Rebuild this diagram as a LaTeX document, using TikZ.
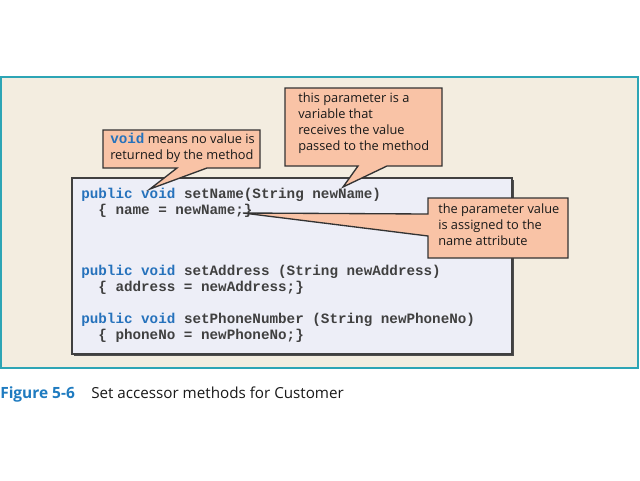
\documentclass[tikz,border=0pt]{standalone}
\usepackage{fontspec}
\setmainfont{Open Sans}
\newfontfamily\codefont{Liberation Mono}
\begin{document}
\begin{tikzpicture}[x=0.75pt,y=-0.75pt,
  calloutshape/.style={draw=black!80,line width=1pt,fill=calloutfill},
  callouttext/.style={align=left,inner sep=0pt,anchor=north west,font=\fontsize{9.6}{11.8}\selectfont,text=black!90},
  codeline/.style={anchor=base west,inner sep=0pt,font=\codefont\bfseries\fontsize{10.7}{12}\selectfont,text=black!75}]
\definecolor{panelfill}{HTML}{F3EDE0}
\definecolor{panelborder}{HTML}{2DA5B5}
\definecolor{codefill}{HTML}{EDEEF7}
\definecolor{calloutfill}{HTML}{F9C3A6}
\definecolor{kwblue}{HTML}{2672BC}
\definecolor{capblue}{HTML}{1F7BC0}
\useasboundingbox (0,0) rectangle (640,480);
\fill[white] (0,0) rectangle (640,480);
% outer panel
\draw[draw=panelborder,line width=1.5pt,fill=panelfill] (1,77) rectangle (638,368);
% code box with shadow
\fill[black!70] (74,180) rectangle (514,356);
\draw[draw=black!75,line width=0.8pt,fill=codefill] (72,178) rectangle (512,354);
% code lines
\node[codeline] (l1) at (81,198) {\textcolor{kwblue}{public void} setName(String newName)};
\node[codeline] (l2) at (81,214) {\ \ \{ name = newName;\}};
\node[codeline] (l3) at (81,275) {\textcolor{kwblue}{public void} setAddress (String newAddress)};
\node[codeline] (l4) at (81,291) {\ \ \{ address = newAddress;\}};
\node[codeline] (l5) at (81,323) {\textcolor{kwblue}{public void} setPhoneNumber (String newPhoneNo)};
\node[codeline] (l6) at (81,339) {\ \ \{ phoneNo = newPhoneNo;\}};
% tip coordinates
\coordinate (tipvoid) at (150,189);
\coordinate (tipparam) at (343,187);
\coordinate (tipassign) at (243,213);
% callout 1
\draw[calloutshape] (103,130) -- (260,130) -- (260,168) -- (207,168) -- (tipvoid) -- (177,168) -- (103,168) -- cycle;
\node[callouttext] (c1) at (110,133) {{\codefont\bfseries\fontsize{10.7}{12}\selectfont\textcolor{kwblue}{void}} means no value is\\returned by the method};
% callout 2
\draw[calloutshape] (285,88) -- (442,88) -- (442,166) -- (387,166) -- (tipparam) -- (358,166) -- (285,166) -- cycle;
\node[callouttext] (c2) at (298,93) {this parameter is a\\variable that\\receives the value\\passed to the method};
% callout 3
\draw[calloutshape] (428,198) -- (568,198) -- (568,258) -- (428,258) -- (428,236) -- (tipassign) -- (428,214) -- cycle;
\node[callouttext] (c3) at (438,204) {the parameter value\\is assigned to the\\name attribute};
% caption
\node[anchor=base west,inner sep=0pt,font=\fontsize{11.6}{14}\selectfont\bfseries,text=capblue] (fig) at (0,398) {Figure 5-6};
\node[anchor=base west,inner sep=0pt,font=\fontsize{11.4}{14}\selectfont,text=black!90] (cap) at (91,398) {Set accessor methods for Customer};
\end{tikzpicture}
\end{document}
